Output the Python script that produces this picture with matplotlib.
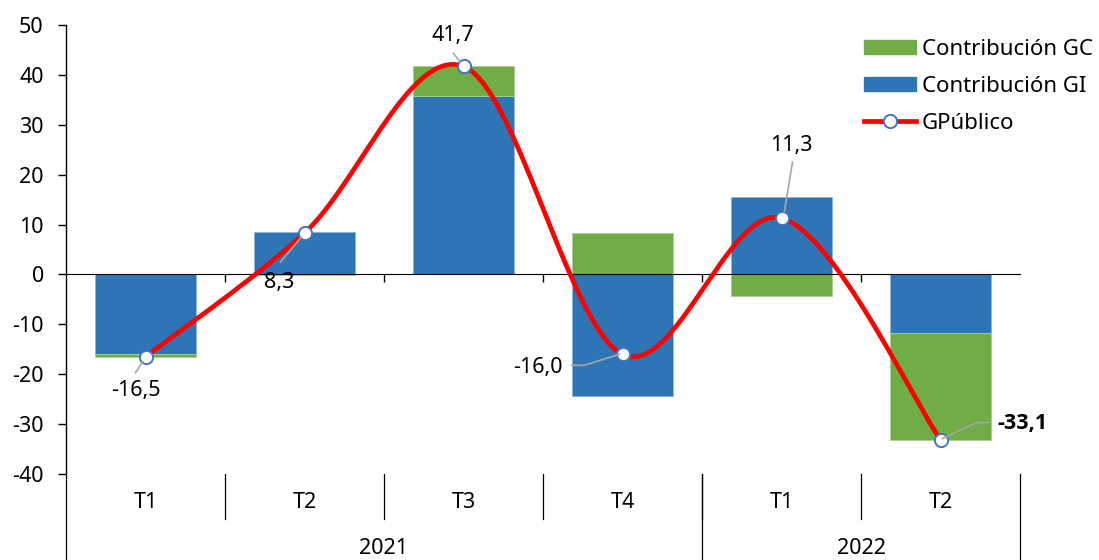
import matplotlib.pyplot as plt
import numpy as np
from matplotlib.lines import Line2D
from matplotlib.patches import Patch

plt.rcParams['font.family'] = ['Noto Sans', 'DejaVu Sans']
plt.rcParams['axes.unicode_minus'] = False

quarters = ['T1', 'T2', 'T3', 'T4', 'T1', 'T2']
years = ['2021', '2022']
year_len = [4, 2]
contrib_gi = [-16.0, 8.5, 35.8, -24.4, 15.6, -11.8]
contrib_gc = [-0.5, -0.2, 5.9, 8.4, -4.3, -21.3]
gpublico = [-16.5, 8.3, 41.7, -16.0, 11.3, -33.1]

BLUE = '#2E75B6'
GREEN = '#70AD47'
RED = '#FF0000'
MK = '#4472C4'
FS = 15.5

fig = plt.figure(figsize=(10.99, 5.6), dpi=100)
ax = fig.add_axes([66 / 1099, 1 - 474 / 560, (1020 - 66) / 1099, (474 - 25) / 560])
ax.set_xlim(-0.5, 5.5)
ax.set_ylim(-40, 50)

x = np.arange(len(quarters))
w = 0.64

# stacked bars, positives and negatives stacked separately (like Excel)
gi = np.array(contrib_gi)
gc = np.array(contrib_gc)
gc_bottom = np.where(np.sign(gc) == np.sign(gi), gi, 0)
ax.bar(x, gi, w, color=BLUE, edgecolor='#8DB4E2', linewidth=0.6, zorder=2)
ax.bar(x, gc, w, bottom=gc_bottom, color=GREEN, edgecolor='#A9D08E', linewidth=0.6, zorder=2)


# smoothed line, Excel-like bezier
def smooth(xs, ys, n=60):
    P = np.column_stack([xs, ys]).astype(float)
    out = []
    for i in range(len(P) - 1):
        p0 = P[max(i - 1, 0)]
        p1 = P[i]
        p2 = P[i + 1]
        p3 = P[min(i + 2, len(P) - 1)]
        c1 = p1 + (p2 - p0) / 6
        c2 = p2 - (p3 - p1) / 6
        t = np.linspace(0, 1, n)[:, None]
        seg = (1 - t) ** 3 * p1 + 3 * (1 - t) ** 2 * t * c1 + 3 * (1 - t) * t ** 2 * c2 + t ** 3 * p2
        out.append(seg)
    out = np.vstack(out)
    return out[:, 0], out[:, 1]


sx, sy = smooth(x, gpublico)
ax.plot(sx, sy, color=RED, lw=3.4, zorder=4, solid_capstyle='round')
ax.plot(x, gpublico, 'o', ms=9.5, mfc='white', mec=MK, mew=1.4, zorder=5)

# axes styling
for s in ['top', 'right']:
    ax.spines[s].set_visible(False)
ax.spines['bottom'].set_position(('data', 0))
ax.spines['left'].set_linewidth(1.0)
ax.set_yticks(range(-40, 51, 10))
ax.set_yticklabels([str(v) for v in range(-40, 51, 10)], fontsize=FS)
ax.set_xticks(np.arange(0.5, 5, 1))
ax.set_xticklabels([])
ax.tick_params(axis='y', length=6, width=1, pad=10)
ax.tick_params(axis='x', length=6, width=1, direction='out')


# data labels with leader lines (pixel offsets from marker)
def px_to_data(x0, y0, dx, dy):
    d = ax.transData.transform((x0, y0)) + np.array([dx, dy])
    return ax.transData.inverted().transform(d)


labels = [
    dict(off=(-10, -34), ha='center', lead=[(-3, -5), (-10, -16)]),
    dict(off=(-25, -49), ha='center', lead=[(-4, -5), (-24, -29)]),
    dict(off=(-11, 31), ha='center', lead=[(-3, 4), (-10, 13)]),
    dict(off=(-60, -13), ha='right', lead=[(-3, 0), (-38, -11), (-51, -11)]),
    dict(off=(10, 73), ha='center', lead=[(3, 7), (11, 56)]),
    dict(off=(57, 16), ha='left', lead=[(2, 1), (36, 17), (48, 17)], bold=True),
]
for i, (v, lb) in enumerate(zip(gpublico, labels)):
    pts = np.array([px_to_data(i, v, dx, dy) for dx, dy in lb['lead']])
    ax.plot(pts[:, 0], pts[:, 1], color='#A6A6A6', lw=1.2, zorder=6, clip_on=False)
    tx, ty = px_to_data(i, v, *lb['off'])
    if lb.get('bold'):
        ax.text(tx, ty, f'{v:.1f}'.replace('.', ','), ha=lb['ha'], va='center', fontsize=FS,
                family=['Open Sans', 'DejaVu Sans'], fontweight='bold', zorder=7)
    else:
        ax.text(tx, ty, f'{v:.1f}'.replace('.', ','), ha=lb['ha'], va='center', fontsize=FS, zorder=7)

# multi-level category axis below the plot
trans = ax.get_xaxis_transform()
ax_h = 474 - 25


def ax_y(py):
    return (474 - py) / ax_h


for i, q in enumerate(quarters):
    ax.text(i, ax_y(502), q, transform=trans, ha='center', va='center', fontsize=FS)
for b in np.arange(0.5, 5, 1):
    ax.add_line(Line2D([b, b], [0, ax_y(519)], transform=trans, color='black', lw=0.9, clip_on=False))
start = -0.5
bounds = [start]
for yr, n in zip(years, year_len):
    ax.text(start + n / 2, ax_y(548), yr, transform=trans, ha='center', va='center', fontsize=FS)
    start += n
    bounds.append(start)
for b in bounds:
    ax.add_line(Line2D([b, b], [0, ax_y(560)], transform=trans, color='black', lw=0.9, clip_on=False))

# legend
handles = [
    Patch(color=GREEN),
    Patch(color=BLUE),
    Line2D([], [], color=RED, lw=3.4, marker='o', ms=9.5, mfc='white', mec=MK, mew=1.4),
]
fig.legend(handles, ['Contribución GC', 'Contribución GI', 'GPúblico'],
           loc='upper left', bbox_to_anchor=(864 / 1099, 1 - 39 / 560), frameon=False,
           fontsize=16, handlelength=2.35, handleheight=0.55, handletextpad=0.25,
           labelspacing=0.71, borderpad=0, borderaxespad=0)

fig.savefig('out.png', dpi=100)
